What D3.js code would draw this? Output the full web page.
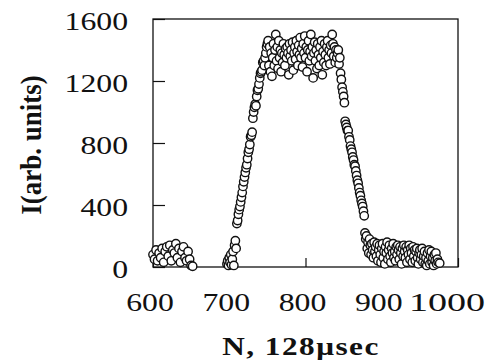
<!DOCTYPE html>
<html><head><meta charset="utf-8">
<script src="https://d3js.org/d3.v7.min.js"></script>
<style>body{margin:0;background:#fff}svg{display:block}</style>
</head><body>
<svg id="c" width="491" height="360"></svg>
<script>
// ---- data ----
const xTicks = [600, 700, 800, 900, 1000];
const yTicks = [0, 400, 800, 1200, 1600];
const xLabel = "N, 128\u03bcsec";
const yLabel = "I(arb. units)";

const nLeft = [600,602,604,606,608,610,612,614,616,618,620,622,624,626,628,630,632,634,636,638,640,642,644,646,648,650,652];
const iLeft = [80,50,110,40,90,60,120,30,100,130,70,140,40,110,90,150,60,120,30,100,130,60,40,100,50,10,5];

const nFoot = [697,698,699,700,701,702,703,704,705,706,707,708,709];
const iFoot = [20,40,10,60,30,80,15,50,100,10,140,170,120];

const nRise = [710,711,712,713,714,715,716,717,718,719,720,721,722,723,724,725,726,727,728,729,730,731,732,733,734,735,736,737,738,739,740,741,742,743,744,745,746,747,748,749,750];
const iRise = [280,300,340,370,390,420,450,480,520,550,580,610,640,660,700,740,760,790,840,850,870,960,1000,1030,1050,1040,1100,1140,1150,1180,1220,1250,1260,1270,1320,1330,1300,1350,1380,1420,1440];

const nTop = [751,752,753,754,755,756,757,758,759,760,761,762,763,764,765,766,767,768,769,770,771,772,773,774,775,776,777,778,779,780,781,782,783,784,785,786,787,788,789,790,791,792,793,794,795,796,797,798,799,800,801,802,803,804,805,806,807,808,809,810,811,812,813,814,815,816,817,818,819,820,821,822,823,824,825,826,827,828,829,830,831,832,833,834,835,836,837,838,839,840,841,842,843,844,845,846,847,848,849,850,851];
const iTop = [1460,1300,1420,1260,1380,1230,1350,1440,1300,1400,1500,1330,1420,1280,1460,1350,1400,1260,1380,1320,1440,1370,1300,1410,1350,1420,1380,1240,1440,1360,1400,1330,1450,1270,1380,1420,1340,1460,1390,1300,1430,1370,1480,1350,1410,1290,1440,1380,1490,1350,1420,1260,1400,1460,1330,1390,1500,1360,1420,1220,1380,1450,1330,1400,1280,1440,1370,1300,1420,1350,1460,1240,1390,1320,1440,1370,1300,1420,1460,1350,1400,1310,1430,1380,1500,1440,1360,1420,1320,1400,1350,1380,1400,1310,1350,1250,1210,1160,1130,1100,1060];

const nFall = [852,853,854,855,856,857,858,859,860,861,862,863,864,865,866,867,868,869,870,871,872,873,874,875,876,877];
const iFall = [940,920,900,880,880,840,820,780,760,740,710,690,660,650,620,590,560,540,510,480,460,430,410,390,360,330];

const nTail = [878,879,880,881,882,883,884,885,886,887,888,889,890,891,892,893,894,895,896,897,898,899,900,901,902,903,904,905,906,907,908,909,910,911,912,913,914,915,916,917,918,919,920,921,922,923,924,925,926,927,928,929,930,931,932,933,934,935,936,937,938,939,940,941,942,943,944,945,946,947,948,949,950,951,952,953,954,955,956,957,958,959,960,961,962,963,964,965,966,967,968,969,970,971,972,973,974,976];
const iTail = [220,180,200,120,160,90,180,140,80,150,110,60,160,100,130,70,150,40,110,140,80,30,120,150,60,100,20,130,90,160,50,110,140,70,30,120,90,150,60,100,40,130,80,140,110,50,130,90,20,120,70,140,100,60,130,30,110,80,140,50,120,90,30,130,70,110,40,100,120,60,20,90,110,50,80,120,30,70,100,20,60,10,90,40,110,20,70,100,30,60,10,80,40,90,20,50,30,25];

// ---- drawing ----
const svg = d3.select("#c");
const x = d3.scaleLinear().domain([600, 1000]).range([153, 458]);
const y = d3.scaleLinear().domain([0, 1600]).range([267, 19]);
const SX = 1.27;
const FONT = '"Liberation Serif", "Times New Roman", serif';

const pts = [];
[[nLeft,iLeft],[nFoot,iFoot],[nRise,iRise],[nTop,iTop],[nFall,iFall],[nTail,iTail]].forEach(([ns, is]) => {
  ns.forEach((n, k) => pts.push({n: n, v: is[k]}));
});

// axes (inward ticks)
const gy = svg.append("g").attr("transform", `translate(${x.range()[0]},0)`)
  .call(d3.axisLeft(y).tickValues(yTicks).tickSizeInner(-12).tickSizeOuter(0).tickFormat(""));
const gx = svg.append("g").attr("transform", `translate(0,${y.range()[0]})`)
  .call(d3.axisBottom(x).tickValues(xTicks).tickSizeInner(-9).tickSizeOuter(0).tickFormat(""));
[gy, gx].forEach(g => { g.select(".domain").remove(); g.selectAll("line").attr("stroke", "#111").attr("stroke-width", 1.2); });

// frame
svg.append("rect").attr("x", x(600)).attr("y", y(1600))
  .attr("width", x(1000) - x(600)).attr("height", y(0) - y(1600))
  .attr("fill", "none").attr("stroke", "#111").attr("stroke-width", 1.3);

// points
svg.append("g").selectAll("circle").data(pts).join("circle")
  .attr("cx", d => x(d.n)).attr("cy", d => y(d.v)).attr("r", 4.2)
  .attr("fill", "#fff").attr("stroke", "#111").attr("stroke-width", 1.4);

// tick labels
svg.append("g").selectAll("text").data(yTicks).join("text")
  .attr("transform", d => `translate(128,${y(d) + 11}) scale(${SX},1)`)
  .attr("text-anchor", "end").style("font-family", FONT).attr("font-size", 25)
  .attr("fill", "#111").text(d => d);
svg.append("g").selectAll("text").data(xTicks).join("text")
  .attr("transform", d => `translate(${x(d) - 3 - (d === 1000 ? 8 : 0)},311) scale(${SX * (d === 1000 ? 1.2 : 1)},1)`)
  .attr("text-anchor", "middle").style("font-family", FONT).attr("font-size", 25)
  .attr("fill", "#111").text(d => d);

// axis titles
svg.append("text").attr("transform", `translate(301,355) scale(1.25,1)`)
  .attr("text-anchor", "middle").style("font-family", FONT).attr("font-size", 25)
  .attr("font-weight", "bold").attr("letter-spacing", 1.2).attr("fill", "#111").text(xLabel);
svg.append("text").attr("transform", `translate(41,145) scale(1.12,1) rotate(-90)`)
  .attr("text-anchor", "middle").style("font-family", FONT).attr("font-size", 27)
  .attr("font-weight", "bold").attr("fill", "#111").text(yLabel);
</script>
</body></html>
